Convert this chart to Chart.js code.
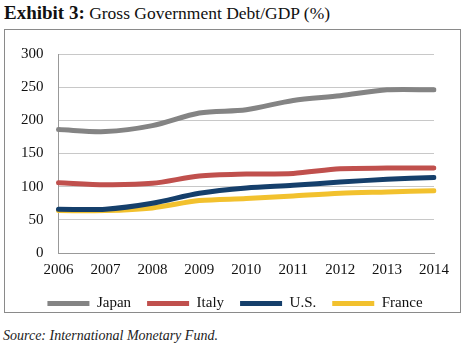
<!DOCTYPE html>
<html><head><meta charset="utf-8">
<script src="https://cdn.jsdelivr.net/npm/chart.js@4/dist/chart.umd.min.js"></script>
<style>
html,body{margin:0;padding:0;background:#fff;}
body{width:468px;height:353px;position:relative;overflow:hidden;font-family:'Liberation Serif','Times New Roman',serif;}
#title{position:absolute;left:4px;top:2px;font-size:17.5px;color:#111;white-space:nowrap;font-family:'Liberation Serif',serif;}
#title b{font-weight:bold;font-size:19px;}
#box{position:absolute;left:4px;top:29px;width:455px;height:282px;border:1px solid #8a8a8a;}
#src{position:absolute;left:3px;top:328px;font-size:14px;font-style:italic;color:#222;font-family:'Liberation Serif',serif;white-space:nowrap;}
canvas{display:block;position:absolute;left:0;top:0;}
</style></head><body>
<div id="title"><b>Exhibit 3:</b> Gross Government Debt/GDP (%)</div>
<div id="box"><canvas id="c" width="455" height="298"></canvas></div>
<div id="src">Source: International Monetary Fund.</div>
<script>
const years = ["2006","2007","2008","2009","2010","2011","2012","2013","2014"];
const japan  = [186, 183, 192, 211, 216, 230, 237, 246, 246];
const italy  = [106, 103, 105, 116, 119, 120, 127, 128, 128];
const us     = [66, 66, 75, 90, 98, 102, 107, 111, 114];
const france = [64, 64, 68, 79, 82, 86, 90, 92, 94];
const yTicks = [0, 50, 100, 150, 200, 250, 300];

const FAM = "'Liberation Serif', 'Times New Roman', serif";
function ds(label, data, color){
  return {label, data, borderColor:color, backgroundColor:color, borderWidth:5,
    pointRadius:0, tension:0.3, fill:false, borderCapStyle:'round'};
}
// nudge the legend box after layout so its wide item spacing does not squeeze the plot
const legendNudge = {
  id:'legendNudge',
  afterLayout(chart){
    const l = chart.legend;
    if (!l) return;
    l.top -= 7; l.bottom -= 7;
    l.left += 15; l.right += 15;
  }
};
new Chart(document.getElementById('c'), {
  type:'line',
  data:{labels:years, datasets:[
    ds('Japan', japan, '#848484'),
    ds('Italy', italy, '#c0504d'),
    ds('U.S.', us, '#153f6b'),
    ds('France', france, '#f2c12e')
  ]},
  plugins:[legendNudge],
  options:{
    responsive:false, animation:false,
    layout:{padding:{left:1, right:26, top:15, bottom:0}},
    plugins:{
      legend:{position:'bottom', labels:{
        font:{family:FAM, size:15}, color:'#111',
        boxWidth:42, boxHeight:0, padding:16,
        generateLabels(chart){
          return chart.data.datasets.map((d,i)=>({text:d.label, fillStyle:d.borderColor, strokeStyle:d.borderColor,
            lineWidth:5, lineCap:'round', datasetIndex:i, hidden:false, fontColor:'#111'}));
        }
      }},
      tooltip:{enabled:false}
    },
    scales:{
      x:{offset:false, grid:{display:false, drawTicks:false}, border:{display:true,color:'#999'},
        ticks:{font:{family:FAM, size:15}, color:'#111', padding:8, maxRotation:0}},
      y:{min:0, max:300, afterBuildTicks(a){a.ticks = yTicks.map(v=>({value:v}));},
        grid:{color:'#c8c8c8', drawTicks:false}, border:{display:true, color:'#999'},
        ticks:{font:{family:FAM, size:15}, color:'#111', padding:15}}
    }
  }
});
</script>
</body></html>
